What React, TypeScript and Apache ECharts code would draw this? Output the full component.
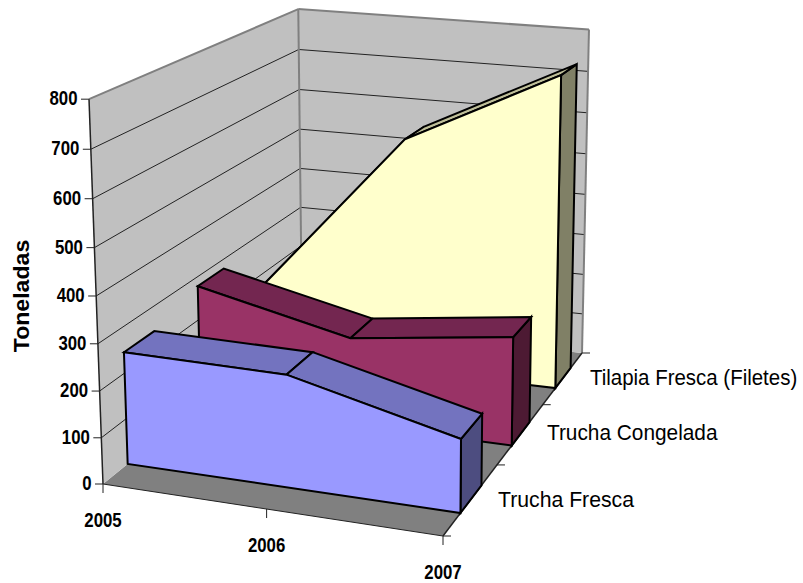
import React, { useEffect, useRef } from "react";
import * as echarts from "echarts";

const years = ["2005", "2006", "2007"];
const seriesNames = ["Trucha Fresca", "Trucha Congelada", "Tilapia Fresca (Filetes)"];
const truchaFresca = [245, 240, 153];
const truchaCongelada = [278, 198, 242];
const tilapiaFresca = [170, 560, 737];
const valueTicks = [0, 100, 200, 300, 400, 500, 600, 700, 800];
const faceColors = ["#9999FF", "#993366", "#FFFFCC"];
const topColors = ["#7373BF", "#732650", "#BFBF99"];
const sideColors = ["#4D4D80", "#4D1A33", "#808066"];

const FL = [103, 484], FR = [443, 536], BR = [582, 353], BL = [302, 322];
const VANISH = [402, 8708];
const C = -0.0447;
const HALF_DEPTH = 0.065;
const TILT_A = 0.006, TILT_B = -0.024;
const FONT = "'Liberation Sans', Arial, sans-serif";

const sx = FL[0] - FR[0] + BR[0] - BL[0];
const sy = FL[1] - FR[1] + BR[1] - BL[1];
const dx1 = FR[0] - BR[0], dx2 = BL[0] - BR[0], dy1 = FR[1] - BR[1], dy2 = BL[1] - BR[1];
const den = dx1 * dy2 - dx2 * dy1;
const g = (sx * dy2 - dx2 * sy) / den;
const h = (dx1 * sy - sx * dy1) / den;
const a = FR[0] - FL[0] + g * FR[0];
const b = BL[0] - FL[0] + h * BL[0];
const d = FR[1] - FL[1] + g * FR[1];
const e = BL[1] - FL[1] + h * BL[1];

// u: along the years, z: along the series (front to back), v: height 0..1
function project(u: number, z: number, v0: number): number[] {
  const v = v0 * (1 + z * (TILT_A + TILT_B * u));
  const w = g * u + h * z + 1 + v * C;
  return [
    (a * u + b * z + FL[0] + v * C * VANISH[0]) / w,
    (d * u + e * z + FL[1] + v * C * VANISH[1]) / w,
  ];
}

const GRID = 100;
const axisMax = valueTicks[valueTicks.length - 1];

function poly(points: number[][], fill: string, stroke = "#000", lineWidth = 2) {
  return {
    type: "polygon",
    shape: { points },
    style: { fill, stroke, lineWidth, lineJoin: "miter" },
  };
}
function seg(p: number[], q: number[], stroke = "#000", lineWidth = 1) {
  return {
    type: "line",
    shape: { x1: p[0], y1: p[1], x2: q[0], y2: q[1] },
    style: { stroke, lineWidth },
  };
}
function label(text: string, x: number, y: number, size: number, weight: string, align: string, extra: any = {}) {
  return {
    type: "text",
    x,
    y,
    ...extra,
    style: { text, fontFamily: FONT, fontSize: size, fontWeight: weight, fill: "#000", align, verticalAlign: "middle" },
  };
}

function renderFrame() {
  const wallGray = "#808080";
  const children: any[] = [];
  children.push(poly([project(0, 0, 0), project(1, 0, 0), project(1, 1, 0), project(0, 1, 0)], "#808080", "none", 0));
  children.push(poly([project(0, 0, 0), project(0, 1, 0), project(0, 1, 1), project(0, 0, 1)], "#C0C0C0", "none", 0));
  children.push(poly([project(0, 1, 0), project(1, 1, 0), project(1, 1, 1), project(0, 1, 1)], "#C0C0C0", "none", 0));
  valueTicks.forEach((t, i) => {
    const v = t / axisMax;
    if (i > 0 && i < valueTicks.length - 1) {
      children.push(seg(project(0, 0, v), project(0, 1, v), "#222"));
      children.push(seg(project(0, 1, v), project(1, 1, v), "#222"));
    }
    const p = project(0, 0, v);
    children.push(seg([p[0] - 8, p[1]], p, "#222"));
    children.push(label(String(t), p[0] - 11.5, p[1] - 1, 21, "bold", "right", { scaleX: 0.8 }));
  });
  children.push(seg(project(0, 0, 1), project(0, 1, 1), wallGray, 2));
  children.push(seg(project(0, 1, 1), project(1, 1, 1), wallGray, 2));
  children.push(seg(project(1, 1, 1), project(1, 1, 0), wallGray, 2));
  children.push(seg(project(0, 1, 1), project(0, 1, 0), wallGray, 2));
  children.push(seg(project(0, 0, 0), project(0, 0, 1), "#222", 1.5));
  children.push(seg(project(0, 0, 0), project(1, 0, 0), "#222", 1));
  children.push(seg(project(1, 0, 0), project(1, 1, 0), "#222", 1.5));
  years.forEach((y, i) => {
    const p = project(i / (years.length - 1), 0, 0);
    children.push(seg(p, [p[0], p[1] + 9], "#222"));
    children.push(label(y, p[0], p[1] + 36, 21, "bold", "center", { scaleX: 0.8 }));
  });
  const nameX = [498, 547, 590];
  const nameY = [499, 433, 378];
  const nameScale = [0.965, 0.947, 0.93];
  seriesNames.forEach((n, i) => {
    const p0 = project(1, i / seriesNames.length, 0);
    children.push(seg(p0, [p0[0] + 8, p0[1]], "#222"));
    children.push(label(n, nameX[i], nameY[i], 22, "normal", "left", { scaleX: nameScale[i] }));
  });
  const p1 = project(1, 1, 0);
  children.push(seg(p1, [p1[0] + 8, p1[1]], "#222"));
  children.push(label("Toneladas", 22, 296, 22, "bold", "center", { rotation: Math.PI / 2, scaleX: 1.05 }));
  return { type: "group", children };
}

function areaRenderer(seriesIndex: number) {
  return (params: any, api: any) => {
    if (params.dataIndex !== 0) return null;
    const base = api.coord([0, 0]);
    const n = years.length;
    const pts: number[][] = [];
    for (let i = 0; i < n; i++) {
      const c = api.coord([api.value(0, i), api.value(1, i)]);
      pts.push([(c[0] - base[0]) / GRID, (base[1] - c[1]) / GRID]);
    }
    const zc = (seriesIndex + 0.5) / seriesNames.length;
    const zf = zc - HALF_DEPTH, zb = zc + HALF_DEPTH;
    const children: any[] = [];
    const last = pts[n - 1];
    children.push(
      poly([project(1, zf, 0), project(1, zb, 0), project(1, zb, last[1]), project(1, zf, last[1])], sideColors[seriesIndex])
    );
    for (let i = 0; i < n - 1; i++) {
      const [u0, v0] = pts[i];
      const [u1, v1] = pts[i + 1];
      children.push(
        poly([project(u0, zf, v0), project(u1, zf, v1), project(u1, zb, v1), project(u0, zb, v0)], topColors[seriesIndex])
      );
    }
    const front = pts.map(([u, v]) => project(u, zf, v));
    front.push(project(1, zf, 0), project(0, zf, 0));
    children.push(poly(front, faceColors[seriesIndex]));
    return { type: "group", children };
  };
}

const seriesValues = [truchaFresca, truchaCongelada, tilapiaFresca];

export default function App() {
  const ref = useRef<HTMLDivElement>(null);
  useEffect(() => {
    const chart = echarts.init(ref.current!, undefined, { renderer: "svg" });
    const toData = (vals: number[]) => vals.map((v, i) => [i / (years.length - 1), v]);
    chart.setOption({
      animation: false,
      backgroundColor: "#fff",
      grid: { left: 0, top: 0, width: GRID, height: GRID },
      xAxis: { type: "value", min: 0, max: 1, show: false },
      yAxis: { type: "value", min: 0, max: axisMax, show: false },
      tooltip: { show: false },
      series: [
        { type: "custom", silent: true, z: 1, renderItem: (p: any) => (p.dataIndex === 0 ? renderFrame() : null), data: [[0, 0]] },
        { type: "custom", silent: true, z: 2, name: seriesNames[2], renderItem: areaRenderer(2), data: toData(seriesValues[2]) },
        { type: "custom", silent: true, z: 3, name: seriesNames[1], renderItem: areaRenderer(1), data: toData(seriesValues[1]) },
        { type: "custom", silent: true, z: 4, name: seriesNames[0], renderItem: areaRenderer(0), data: toData(seriesValues[0]) },
      ],
    });
    return () => chart.dispose();
  }, []);
  return <div ref={ref} style={{ position: "absolute", left: 0, top: 0, width: 803, height: 583 }} />;
}
